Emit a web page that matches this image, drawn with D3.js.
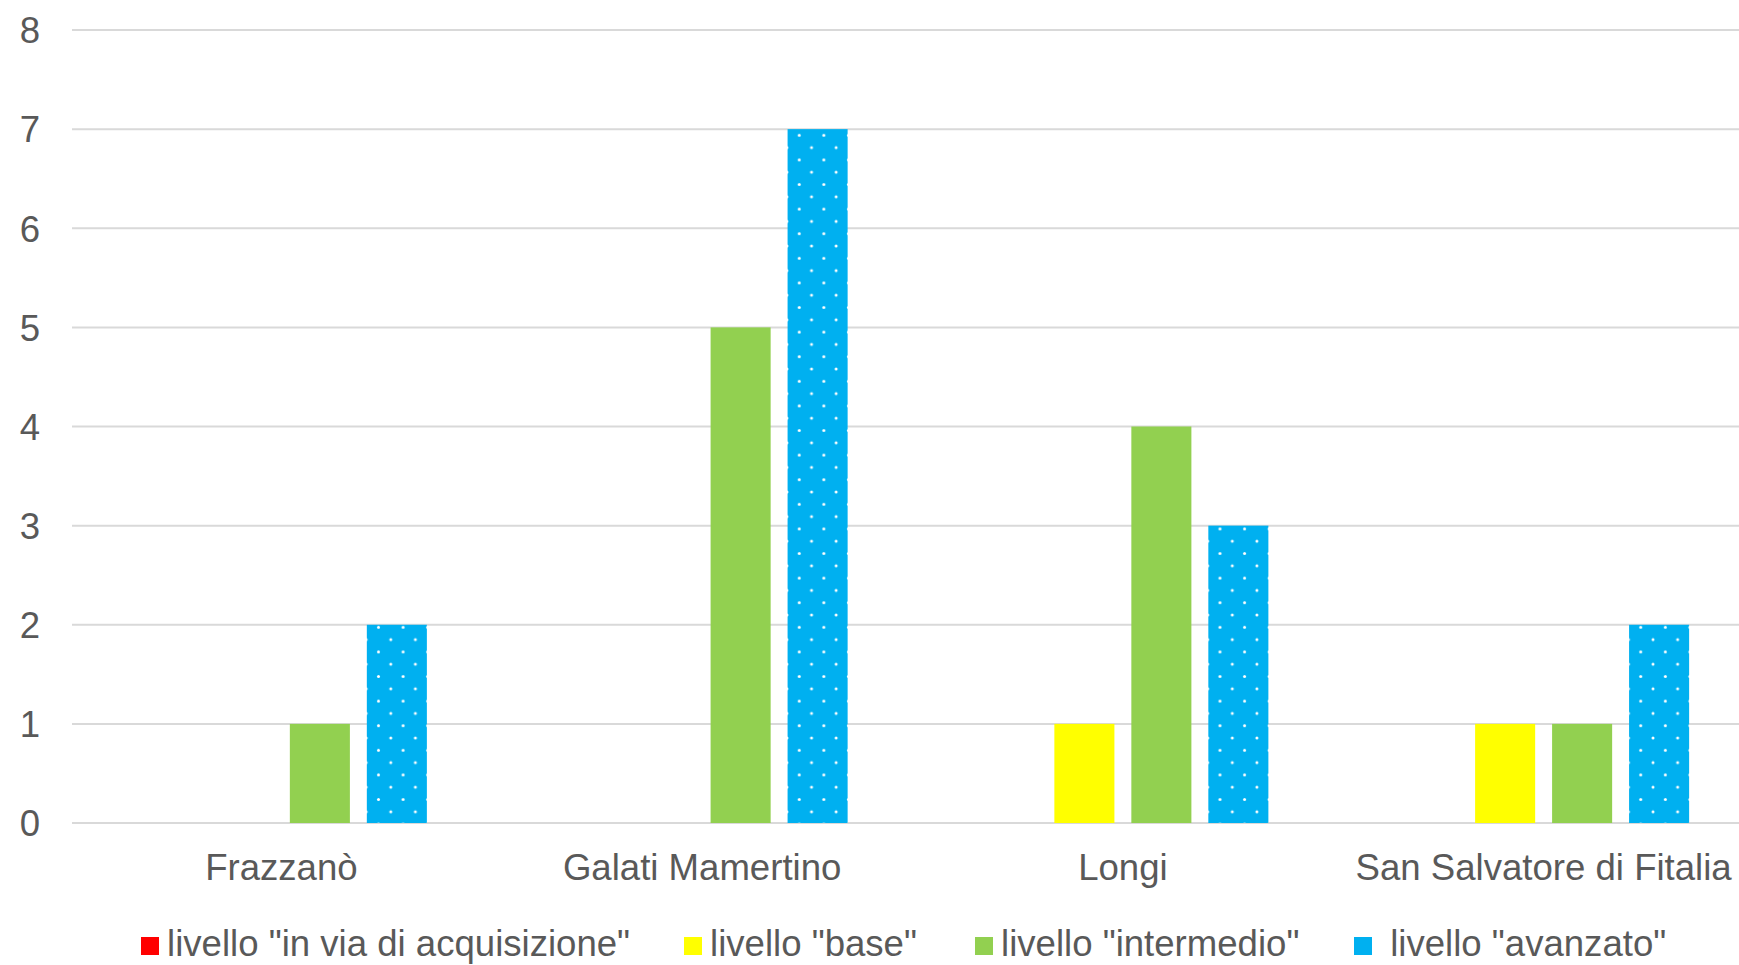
<!DOCTYPE html>
<html>
<head>
<meta charset="utf-8">
<script src="https://cdn.jsdelivr.net/npm/d3@7/dist/d3.min.js"></script>
<style>
  html, body { margin: 0; padding: 0; background: #ffffff; overflow: hidden; }
  svg { display: block; }
  text { font-family: "Liberation Sans", Arial, sans-serif; fill: #595959; }
</style>
</head>
<body>
<svg id="chart" width="1739" height="965"></svg>
<script>
// ---- data ----
const categories = ["Frazzanò", "Galati Mamertino", "Longi", "San Salvatore di Fitalia"];
const seriesNames = ["livello \"in via di acquisizione\"", "livello \"base\"", "livello \"intermedio\"", " livello \"avanzato\""];
const seriesKeys = ["acquisizione", "base", "intermedio", "avanzato"];
const valuesAcquisizione = [0, 0, 0, 0];
const valuesBase = [0, 0, 1, 1];
const valuesIntermedio = [1, 5, 4, 1];
const valuesAvanzato = [2, 7, 3, 2];
const yTicks = [0, 1, 2, 3, 4, 5, 6, 7, 8];

const seriesValues = [valuesAcquisizione, valuesBase, valuesIntermedio, valuesAvanzato];
const colors = ["#FF0000", "#FFFF00", "#92D050", "#00B0F0"];

const svg = d3.select("#chart");
const W = 1739, H = 965;
svg.append("rect").attr("width", W).attr("height", H).attr("fill", "#ffffff");

// pattern for dotted blue series
const defs = svg.append("defs");
const pat = defs.append("pattern")
  .attr("id", "dots")
  .attr("patternUnits", "userSpaceOnUse")
  .attr("width", 24.6).attr("height", 24.6);
pat.append("rect").attr("width", 24.6).attr("height", 24.6).attr("fill", "#00B0F0");
[[12.3, 12.3], [0, 0], [24.6, 0], [0, 24.6], [24.6, 24.6]].forEach(p => {
  pat.append("circle").attr("cx", p[0]).attr("cy", p[1]).attr("r", 1.5).attr("fill", "#ffffff");
});

const fills = ["#FF0000", "#FFFF00", "#92D050", "url(#dots)"];
const FS = 36.6;

// scales
const plotLeft = 71, plotRight = 1754;
const y = d3.scaleLinear().domain([0, 8]).range([823, 30]);
const x0 = d3.scaleBand().domain(categories).range([plotLeft, plotRight]).padding(0);
const groupW = 291;
const bw0 = x0.bandwidth();
const x1 = d3.scaleBand().domain(seriesKeys)
  .range([(bw0 - groupW) / 2, (bw0 + groupW) / 2])
  .paddingInner(0.22).paddingOuter(0);

// gridlines
svg.append("g").selectAll("line").data(yTicks).join("line")
  .attr("x1", 72).attr("x2", W)
  .attr("y1", d => y(d)).attr("y2", d => y(d))
  .attr("stroke", "#d9d9d9").attr("stroke-width", 2);

// y axis labels
const yAxis = d3.axisLeft(y).tickValues(yTicks).tickSize(0).tickPadding(0);
const gy = svg.append("g").attr("transform", "translate(40,0)").call(yAxis);
gy.select(".domain").remove();
gy.selectAll("text").attr("font-size", FS).attr("fill", "#595959")
  .style("font-family", "'Liberation Sans', Arial, sans-serif").attr("dy", "0.35em");

// bars
const groups = svg.append("g").selectAll("g").data(categories).join("g")
  .attr("transform", d => `translate(${x0(d)},0)`);
groups.selectAll("rect")
  .data((c, ci) => seriesKeys.map((k, si) => ({ key: k, si, value: seriesValues[si][ci] })))
  .join("rect")
  .filter(d => d.value > 0)
  .attr("x", d => x1(d.key))
  .attr("width", x1.bandwidth())
  .attr("y", d => y(d.value))
  .attr("height", d => y(0) - y(d.value))
  .attr("fill", d => fills[d.si]);

// x axis labels
const xAxis = d3.axisBottom(x0).tickSize(0).tickPadding(0);
const gx = svg.append("g").attr("transform", "translate(0,880)").call(xAxis);
gx.select(".domain").remove();
gx.selectAll("text").attr("font-size", FS).attr("fill", "#595959")
  .style("font-family", "'Liberation Sans', Arial, sans-serif").attr("dy", 0).attr("y", 0);

// legend
const legend = svg.append("g");
const legendStarts = [141, 684, 975, 1354];
const legendY = 945;
seriesNames.forEach((name, i) => {
  const g = legend.append("g").attr("transform", `translate(${legendStarts[i]},0)`);
  g.append("rect").attr("x", 0).attr("y", legendY - 8).attr("width", 18).attr("height", 18)
    .attr("fill", colors[i]);
  g.append("text").attr("x", 26).attr("y", legendY + 11)
    .attr("font-size", FS).style("white-space", "pre").text(name);
});
</script>
</body>
</html>
